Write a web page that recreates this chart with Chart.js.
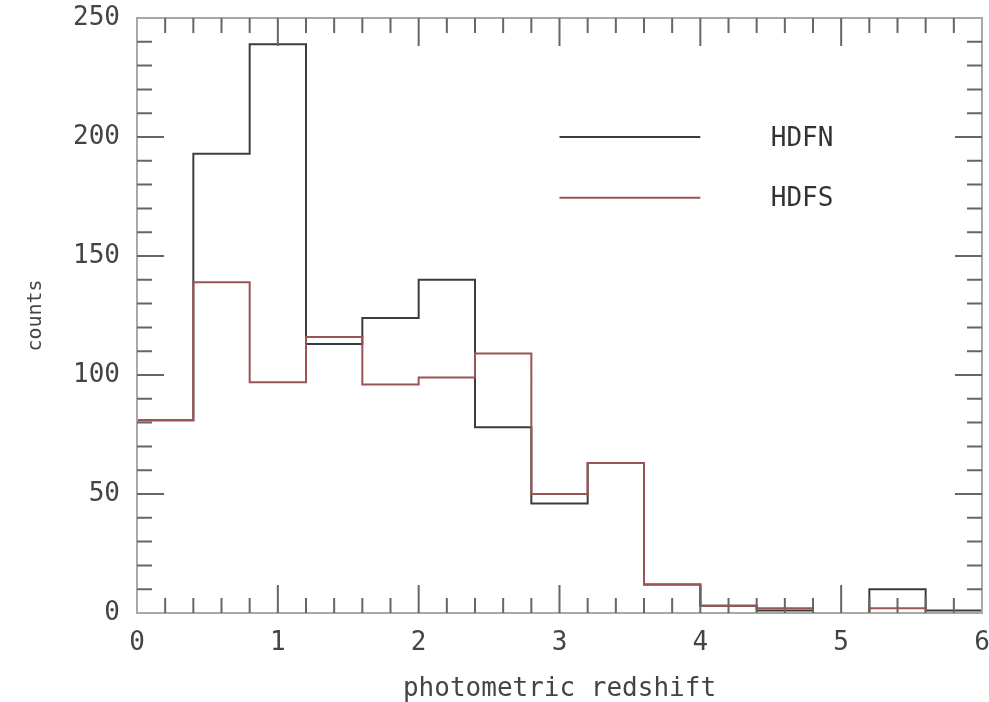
<!DOCTYPE html>
<html>
<head>
<meta charset="utf-8">
<script src="https://cdn.jsdelivr.net/npm/chart.js@4/dist/chart.umd.min.js"></script>
<style>
  html, body { margin: 0; padding: 0; background: #fff; }
  #wrap { width: 989px; height: 702px; }
</style>
</head>
<body>
<div id="wrap"><canvas id="chart-z"></canvas></div>
<script>
// bords des classes en redshift (largeur 0.4)
const binEdges = [0, 0.4, 0.8, 1.2, 1.6, 2.0, 2.4, 2.8, 3.2, 3.6, 4.0, 4.4, 4.8, 5.2, 5.6, 6.0];
// comptages
const hdfnCounts = [81, 193, 239, 113, 124, 140, 78, 46, 63, 12, 3, 1, 0, 10, 1];
const hdfsCounts = [81, 139, 97, 116, 96, 99, 109, 50, 63, 12, 3, 2, 0, 2, 0];
const xTicks = [0, 1, 2, 3, 4, 5, 6];
const yTicks = [0, 50, 100, 150, 200, 250];
const legendLabels = ['HDFN', 'HDFS'];

const FONT = 'DejaVu Sans Mono';
const colN = '#3c3c3c';
const colS = '#9a5454';

// points aux bords gauches + dernier bord pour fermer la marche
function toSteps(counts) {
  const pts = counts.map((v, i) => ({ x: binEdges[i], y: v }));
  pts.push({ x: binEdges[binEdges.length - 1], y: counts[counts.length - 1] });
  return pts;
}

// cadre + graduations tournées vers l'intérieur, et légende
const framePlugin = {
  id: 'frame',
  afterDatasetsDraw(chart) {
    const { ctx, chartArea: a, scales: { x, y } } = chart;
    ctx.save();
    ctx.strokeStyle = '#a8a8a8';
    ctx.lineWidth = 2;
    ctx.strokeRect(a.left, a.top, a.right - a.left, a.bottom - a.top);

    ctx.strokeStyle = '#666';
    ctx.lineWidth = 2;
    ctx.beginPath();
    for (let i = 1; i < 30; i++) {
      const px = x.getPixelForValue(i * 0.2);
      const len = i % 5 === 0 ? 28 : 15;
      ctx.moveTo(px, a.bottom); ctx.lineTo(px, a.bottom - len);
      ctx.moveTo(px, a.top); ctx.lineTo(px, a.top + len);
    }
    for (let v = 10; v < 250; v += 10) {
      const py = y.getPixelForValue(v);
      const len = v % 50 === 0 ? 27 : 15;
      ctx.moveTo(a.left, py); ctx.lineTo(a.left + len, py);
      ctx.moveTo(a.right, py); ctx.lineTo(a.right - len, py);
    }
    ctx.stroke();

    // légende
    const cols = [colN, colS];
    const rows = [200, 174.5];
    ctx.font = '26px "' + FONT + '"';
    ctx.textBaseline = 'middle';
    ctx.fillStyle = '#333';
    legendLabels.forEach((lab, i) => {
      const py = y.getPixelForValue(rows[i]);
      ctx.strokeStyle = cols[i];
      ctx.lineWidth = 2;
      ctx.beginPath();
      ctx.moveTo(x.getPixelForValue(3.0), py);
      ctx.lineTo(x.getPixelForValue(4.0), py);
      ctx.stroke();
      ctx.fillText(lab, x.getPixelForValue(4.5), py + 2);
    });
    ctx.restore();
  }
};

new Chart(document.getElementById('chart-z'), {
  type: 'line',
  data: {
    datasets: [{
      label: legendLabels[0],
      data: toSteps(hdfnCounts),
      stepped: 'before',
      borderColor: colN,
      borderWidth: 2,
      pointRadius: 0,
      fill: false,
      order: 2
    }, {
      label: legendLabels[1],
      data: toSteps(hdfsCounts),
      stepped: 'before',
      borderColor: colS,
      borderWidth: 2,
      pointRadius: 0,
      fill: false,
      order: 1
    }]
  },
  options: {
    responsive: true,
    maintainAspectRatio: false,
    animation: false,
    layout: { padding: { top: 18, right: 7, left: 0, bottom: 0 } },
    plugins: {
      legend: { display: false },
      tooltip: { enabled: false }
    },
    scales: {
      x: {
        type: 'linear',
        min: 0,
        max: 6,
        afterBuildTicks(s) { s.ticks = xTicks.map(v => ({ value: v })); },
        afterFit(s) { s.height = 89; s.paddingLeft = 0; s.paddingRight = 0; },
        grid: { display: false, drawTicks: false },
        border: { display: false },
        ticks: { padding: 15, color: '#444', font: { family: FONT, size: 26 } },
        title: {
          display: true,
          text: 'photometric redshift',
          color: '#444',
          padding: { top: 18, bottom: -3 },
          font: { family: FONT, size: 26 }
        }
      },
      y: {
        min: 0,
        max: 250,
        afterBuildTicks(s) { s.ticks = yTicks.map(v => ({ value: v })); },
        afterFit(s) { s.width = 137; s.paddingTop = 0; s.paddingBottom = 0; },
        grid: { display: false, drawTicks: false },
        border: { display: false },
        ticks: { padding: 17, color: '#444', font: { family: FONT, size: 26 } },
        title: {
          display: true,
          text: 'counts',
          color: '#444',
          padding: { top: 24, bottom: 0 },
          font: { family: FONT, size: 20 }
        }
      }
    }
  },
  plugins: [framePlugin]
});
</script>
</body>
</html>
